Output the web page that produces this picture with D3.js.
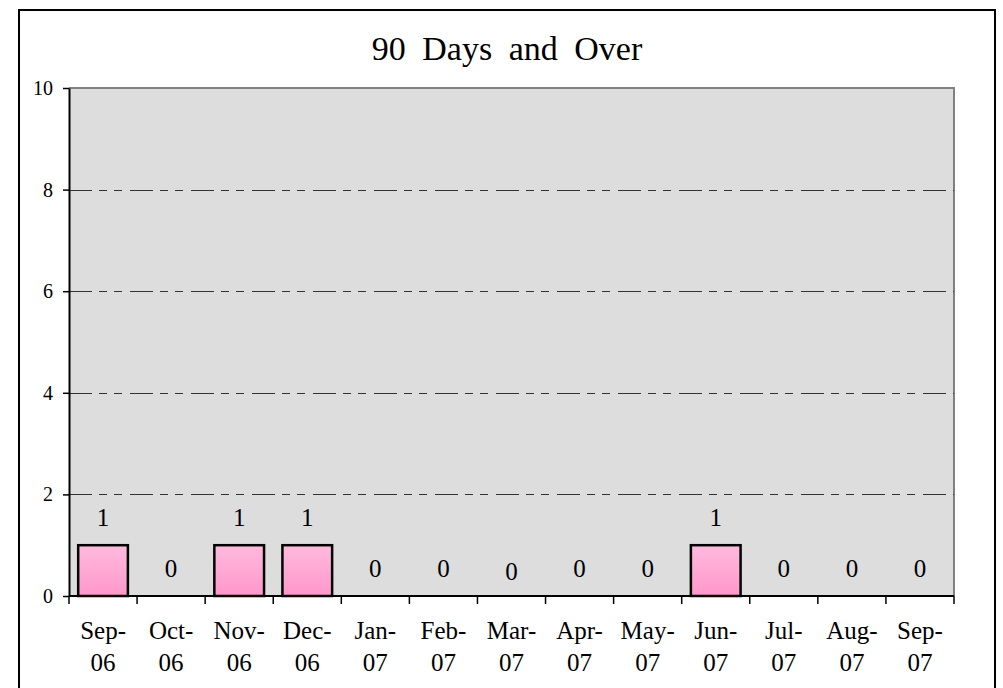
<!DOCTYPE html>
<html><head><meta charset="utf-8">
<script src="https://cdn.jsdelivr.net/npm/d3@7"></script>
<style>body{margin:0;background:#fff}svg{display:block}text{font-family:"Liberation Serif","Times New Roman",serif;fill:#000}</style>
</head><body>
<script>
const title = "90 Days and Over";
const months = ["Sep-","Oct-","Nov-","Dec-","Jan-","Feb-","Mar-","Apr-","May-","Jun-","Jul-","Aug-","Sep-"];
const years = ["06","06","06","06","07","07","07","07","07","07","07","07","07"];
const values = [1,0,1,1,0,0,0,0,0,1,0,0,0];
const yTicks = [0,2,4,6,8,10];
const categories = months.map((m,i)=>m+years[i]);

const W=1003,H=688;
const m={left:69,right:954,top:88,bottom:596};
const svg=d3.select("body").append("svg").attr("width",W).attr("height",H);
const defs=svg.append("defs");
const g=defs.append("linearGradient").attr("id","pink").attr("x1",0).attr("y1",0).attr("x2",0).attr("y2",1);
g.append("stop").attr("offset","0%").attr("stop-color","#ffbade");
g.append("stop").attr("offset","100%").attr("stop-color","#ff97cb");

// frame
svg.append("rect").attr("x",19).attr("y",10).attr("width",976).attr("height",700)
  .attr("fill","#fff").attr("stroke","#000").attr("stroke-width",2);

const x=d3.scaleBand().domain(categories).range([m.left,m.right]).paddingInner(0.27).paddingOuter(0.135);
const xb=d3.scaleBand().domain(categories).range([m.left,m.right]);
const y=d3.scaleLinear().domain([0,10]).range([m.bottom,m.top]);

// plot bg
svg.append("rect").attr("x",m.left).attr("y",m.top).attr("width",m.right-m.left).attr("height",m.bottom-m.top)
  .attr("fill","#dddddd");
// top and right border
svg.append("path").attr("d",`M${m.left},${m.top}H${m.right}V${m.bottom}`).attr("fill","none").attr("stroke","#808080").attr("stroke-width",2);

// gridlines
svg.append("g").selectAll("line").data(yTicks.filter(t=>t>0&&t<10)).join("line")
  .attr("x1",m.left).attr("x2",m.right).attr("y1",d=>Math.round(y(d))+0.5).attr("y2",d=>Math.round(y(d))+0.5)
  .attr("stroke","#333").attr("stroke-width",1.2).attr("stroke-dasharray","23,7,8,7,8,8");

// y axis
const ya=svg.append("g").attr("transform",`translate(${m.left},0)`).call(d3.axisLeft(y).tickValues(yTicks).tickSize(6).tickSizeOuter(0).tickPadding(10));
ya.select(".domain").attr("stroke","#000").attr("stroke-width",2);
ya.selectAll(".tick line").attr("stroke","#000").attr("stroke-width",1.5);
ya.selectAll(".tick text").attr("font-size",20).attr("font-family","Liberation Serif").attr("fill","#000");

// bars
svg.append("g").selectAll("rect").data(values).join("rect")
  .attr("x",(d,i)=>x(categories[i])).attr("width",x.bandwidth())
  .attr("y",d=>y(d)).attr("height",d=>y(0)-y(d))
  .attr("fill","url(#pink)").attr("stroke","#000").attr("stroke-width",2.5)
  .attr("display",d=>d>0?null:"none");

// value labels
svg.append("g").selectAll("text").data(values).join("text")
  .attr("x",(d,i)=>xb(categories[i])+xb.bandwidth()/2)
  .attr("y",(d,i)=>y(d)-19+(i===6?3:0))
  .attr("text-anchor","middle").attr("font-size",25).text(d=>d);

// x axis
const xa=svg.append("g").attr("transform",`translate(0,${m.bottom})`);
xa.append("line").attr("x1",m.left).attr("x2",m.right).attr("stroke","#000").attr("stroke-width",2);
const bounds=categories.map(c=>xb(c)).concat([m.right]);
xa.selectAll("line.tk").data(bounds).join("line").attr("class","tk")
  .attr("x1",d=>d).attr("x2",d=>d).attr("y1",0).attr("y2",8).attr("stroke","#000").attr("stroke-width",1.5);
const xl=xa.selectAll("text").data(categories).join("text")
  .attr("text-anchor","middle").attr("font-size",25)
  .attr("transform",(d)=>`translate(${xb(d)+xb.bandwidth()/2},0)`);
xl.append("tspan").attr("x",0).attr("y",43).text((d,i)=>months[i]);
xl.append("tspan").attr("x",0).attr("y",75).text((d,i)=>years[i]);

// title
svg.append("text").attr("x",507).attr("y",60).attr("text-anchor","middle").attr("font-size",34)
  .attr("word-spacing",8).text(title);
</script>
</body></html>
